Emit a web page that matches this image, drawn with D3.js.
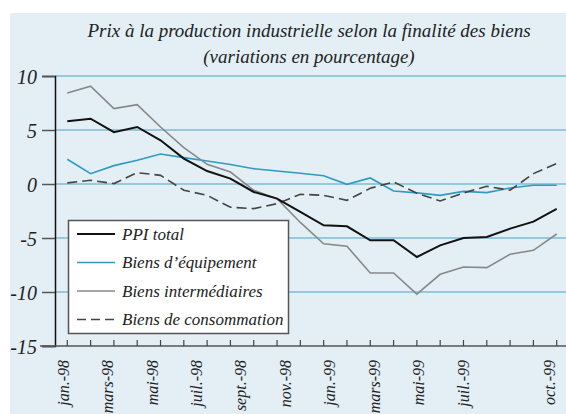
<!DOCTYPE html>
<html><head><meta charset="utf-8">
<script src="https://cdn.jsdelivr.net/npm/d3@7"></script>
<style>
html,body{margin:0;padding:0;background:#fff;}
svg{display:block;}
text{font-family:"Liberation Serif","Times New Roman",serif;font-style:italic;fill:#222;}
</style></head>
<body>
<script>
const months = ["jan.-98","févr.-98","mars-98","avr.-98","mai-98","juin-98","juil.-98","août-98","sept.-98","oct.-98","nov.-98","déc.-98",
                "jan.-99","févr.-99","mars-99","avr.-99","mai-99","juin-99","juil.-99","août-99","sept.-99","oct.-99"];
const shownLabels = ["jan.-98","mars-98","mai-98","juil.-98","sept.-98","nov.-98","jan.-99","mars-99","mai-99","juil.-99","oct.-99"];
const ppiTotal = [5.8,6.05,4.8,5.28,4.05,2.35,1.2,0.5,-0.74,-1.35,-2.59,-3.82,-3.92,-5.21,-5.21,-6.76,-5.68,-5.0,-4.9,-4.13,-3.48,-2.31];
const biensEquipement = [2.29,0.96,1.7,2.19,2.78,2.44,2.13,1.8,1.42,1.2,1.0,0.77,-0.03,0.56,-0.65,-0.82,-1.05,-0.68,-0.8,-0.37,-0.12,-0.12];
const biensIntermediaires = [8.43,9.05,6.98,7.35,5.28,3.37,1.82,1.11,-0.58,-1.35,-3.56,-5.54,-5.77,-8.24,-8.24,-10.2,-8.36,-7.68,-7.74,-6.51,-6.14,-4.63];
const biensConsommation = [0.1,0.34,0.04,1.05,0.8,-0.58,-1.05,-2.15,-2.28,-1.82,-0.95,-1.05,-1.51,-0.4,0.19,-0.85,-1.57,-0.83,-0.21,-0.58,0.96,1.89];
const yTicks = [10,5,0,-5,-10,-15];
const titleLines = ["Prix à la production industrielle selon la finalité des biens","(variations en pourcentage)"];

const W=566,H=414;
const svg=d3.select("body").append("svg").attr("width",W).attr("height",H);
svg.append("rect").attr("x",10).attr("y",13).attr("width",W-10).attr("height",H-13).attr("fill","#e3eff4");

const x=d3.scaleLinear().domain([0,months.length-1]).range([67.3,556.7]);
const y=d3.scaleLinear().domain([-15,10]).range([346,76]);
const xAxisLeft=55;

// title
svg.selectAll("text.title").data(titleLines).join("text").attr("class","title")
  .attr("x",309).attr("y",(d,i)=>37+i*26).attr("text-anchor","middle")
  .style("font-size","19px").attr("fill","#333").text(d=>d);

// gridlines
svg.append("g").selectAll("line").data(yTicks.filter(t=>t>-15)).join("line")
  .attr("x1",xAxisLeft).attr("x2",W).attr("y1",d=>y(d)).attr("y2",d=>y(d))
  .attr("stroke","#7bbcd3").attr("stroke-width",1.6);

// y axis
const yAxis=svg.append("g").attr("transform",`translate(${xAxisLeft},0)`)
  .call(d3.axisLeft(y).tickValues(yTicks).tickSize(13).tickFormat(d=>d));
yAxis.select(".domain").attr("stroke","#111").attr("stroke-width",1.5);
yAxis.selectAll(".tick line").attr("stroke","#555").attr("stroke-width",1.5);
yAxis.selectAll(".tick text").attr("x",-18).attr("dy","0.35em")
  .style("font-size","20px").style("font-family","Liberation Serif").style("font-style","italic").attr("fill","#333");

// x axis
const xg=svg.append("g").attr("transform",`translate(0,${y(-15)})`);
xg.append("line").attr("x1",40).attr("x2",W).attr("stroke","#555").attr("stroke-width",1.5);
xg.selectAll("line.tk").data(months).join("line").attr("class","tk")
  .attr("x1",(d,i)=>x(i)).attr("x2",(d,i)=>x(i)).attr("y1",0).attr("y2",-6)
  .attr("stroke","#444").attr("stroke-width",1.2);
const li=shownLabels.map(l=>months.indexOf(l));
const labelX=d3.scaleLinear().domain([0,18,21]).range([x(0)-4.3,x(18)-23.7,x(21)-7.7]);
xg.selectAll("text").data(shownLabels).join("text")
  .attr("transform",(d,i)=>`translate(${labelX(li[i])},14) rotate(-90)`)
  .attr("text-anchor","end").attr("dy","0.35em")
  .style("font-size","16px").attr("fill","#333").text(d=>d);

// series
const series=[
  {name:"Biens d’équipement",values:biensEquipement,color:"#2f9bc0",dash:null,w:1.6},
  {name:"Biens intermédiaires",values:biensIntermediaires,color:"#888",dash:null,w:1.6},
  {name:"Biens de consommation",values:biensConsommation,color:"#444",dash:"10,5",w:1.6},
  {name:"PPI total",values:ppiTotal,color:"#111",dash:null,w:2}
];
const line=d3.line().x((d,i)=>x(i)).y(d=>y(d));
svg.append("g").selectAll("path").data(series).join("path")
  .attr("d",d=>line(d.values)).attr("fill","none").attr("stroke",d=>d.color)
  .attr("stroke-width",d=>d.w).attr("stroke-dasharray",d=>d.dash).attr("stroke-linejoin","miter");

// legend
const legendOrder=[series[3],series[0],series[1],series[2]];
const lg=svg.append("g");
lg.append("rect").attr("x",68.5).attr("y",220.5).attr("width",220).attr("height",113)
  .attr("fill","#fff").attr("stroke","#555").attr("stroke-width",1.5);
const rows=lg.selectAll("g").data(legendOrder).join("g")
  .attr("transform",(d,i)=>`translate(0,${234+i*28.5})`);
rows.append("line").attr("x1",77).attr("x2",115).attr("stroke",d=>d.color)
  .attr("stroke-width",d=>d.w).attr("stroke-dasharray",d=>d.dash?"9,5":null);
rows.append("text").attr("x",122).attr("dy","0.33em").style("font-size","17px").attr("fill","#333").text(d=>d.name);
</script>
</body></html>
